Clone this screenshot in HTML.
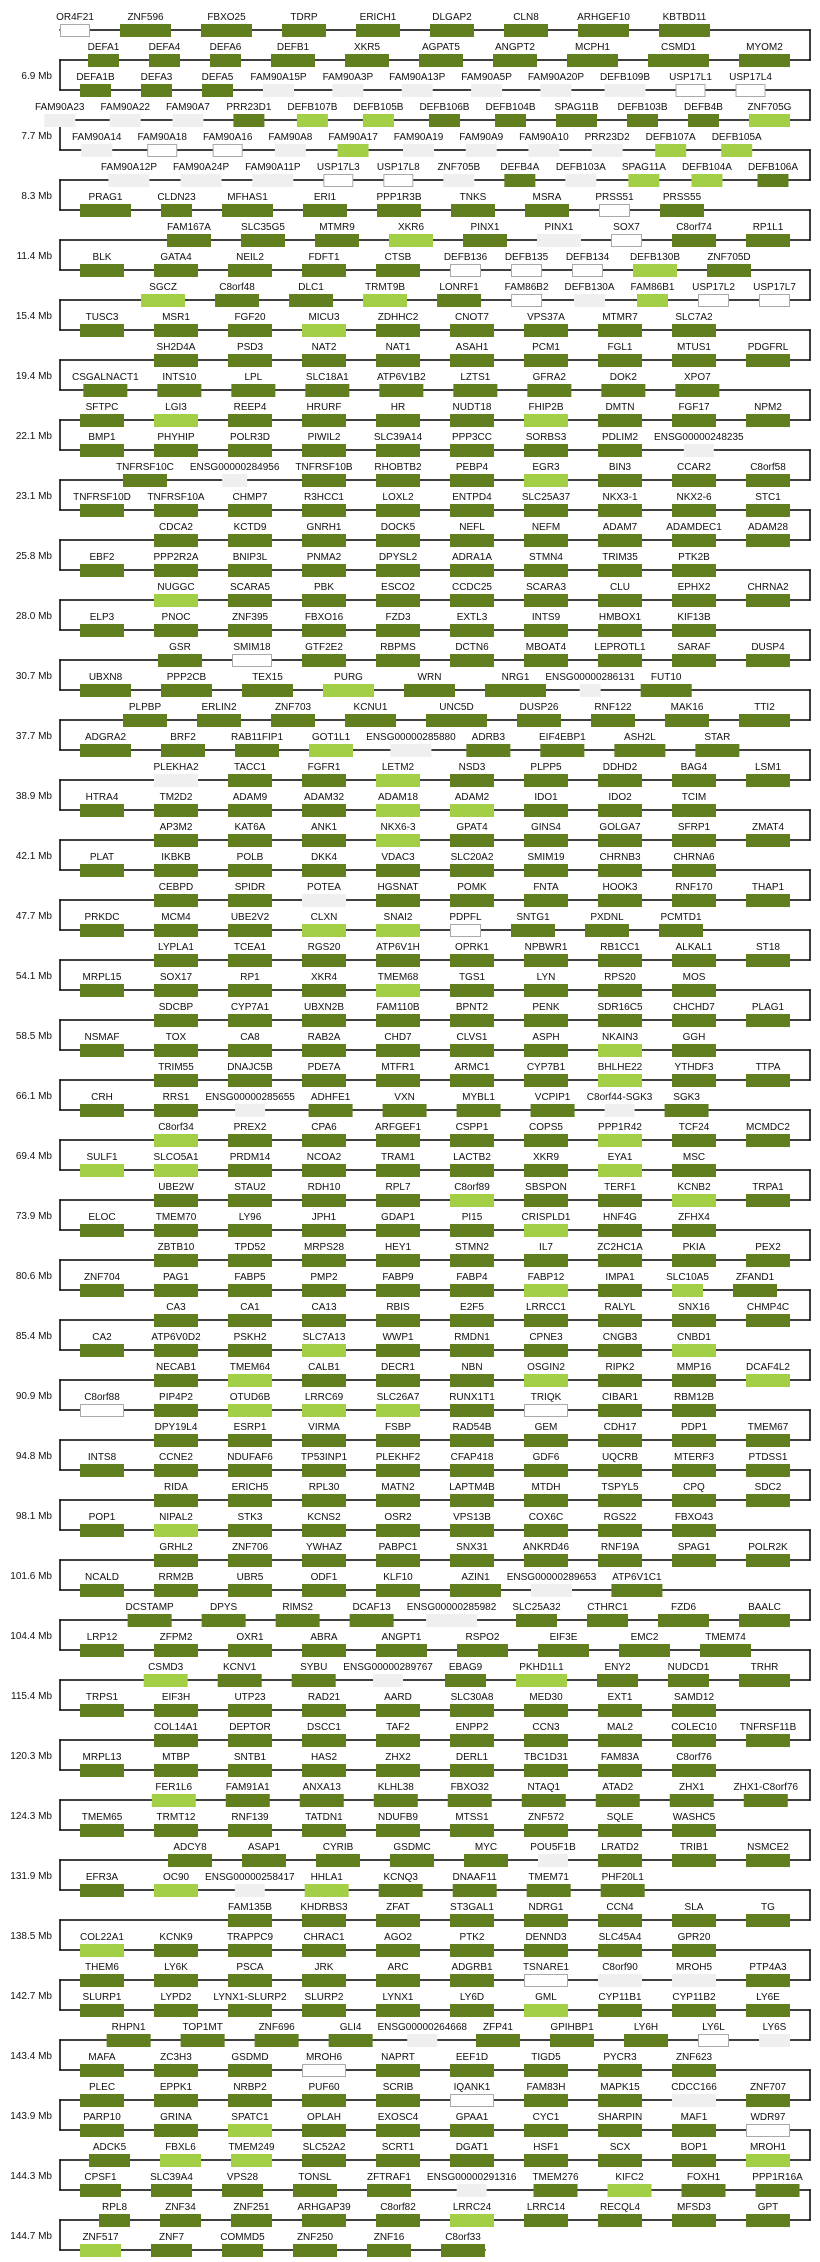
<!DOCTYPE html>
<html><head><meta charset="utf-8">
<style>
html,body{margin:0;padding:0;background:#fff;}
svg{display:block;}
text{font-family:"Liberation Sans","DejaVu Sans",sans-serif;font-size:10px;fill:#111;}
</style></head>
<body>
<svg id="s" width="820" height="2262" xmlns="http://www.w3.org/2000/svg"></svg>
<script>
var data=`OR4F21:w=30 ZNF596=51 FBXO25=51 TDRP ERICH1 DLGAP2 CLN8 ARHGEF10=51 KBTBD11=51
DEFA1=31 DEFA4=31 DEFA6=31 DEFB1 XKR5 AGPAT5 ANGPT2 MCPH1=51 CSMD1=61 MYOM2=51
DEFA1B=31 DEFA3=31 DEFA5=31 FAM90A15P:g=31 FAM90A3P:g=31 FAM90A13P:g=31 FAM90A5P:g=31 FAM90A20P:g=31 DEFB109B:g=41 USP17L1:w=30 USP17L4:w=30
FAM90A23:g=31 FAM90A22:g=31 FAM90A7:g=31 PRR23D1=31 DEFB107B:l=31 DEFB105B:l=31 DEFB106B=31 DEFB104B=31 SPAG11B=41 DEFB103B=31 DEFB4B=31 ZNF705G:l=41
FAM90A14:g=31 FAM90A18:w=30 FAM90A16:w=30 FAM90A8:g=31 FAM90A17:l=31 FAM90A19:g=31 FAM90A9:g=31 FAM90A10:g=31 PRR23D2:g=31 DEFB107A:l=31 DEFB105A:l=31
FAM90A12P:g=41 FAM90A24P:g=41 FAM90A11P:g=41 USP17L3:w=30 USP17L8:w=30 ZNF705B:g=31 DEFB4A=31 DEFB103A:g=31 SPAG11A:l=31 DEFB104A:l=31 DEFB106A=31
PRAG1=51 CLDN23=31 MFHAS1=51 ERI1 PPP1R3B TNKS MSRA PRSS51:w=31 PRSS55
FAM167A SLC35G5 MTMR9 XKR6:l PINX1 PINX1:g SOX7:w=31 C8orf74 RP1L1
BLK GATA4 NEIL2 FDFT1 CTSB DEFB136:w=31 DEFB135:w=31 DEFB134:w=31 DEFB130B:l ZNF705D
SGCZ:l C8orf48 DLC1 TRMT9B:l LONRF1 FAM86B2:w=31 DEFB130A:g=31 FAM86B1:l=31 USP17L2:w=31 USP17L7:w=31
TUSC3 MSR1 FGF20 MICU3:l ZDHHC2 CNOT7 VPS37A MTMR7 SLC7A2
SH2D4A PSD3 NAT2 NAT1 ASAH1 PCM1 FGL1 MTUS1 PDGFRL
CSGALNACT1 INTS10 LPL SLC18A1 ATP6V1B2 LZTS1 GFRA2 DOK2 XPO7
SFTPC LGI3:l REEP4 HRURF HR NUDT18 FHIP2B:l DMTN FGF17 NPM2
BMP1 PHYHIP POLR3D PIWIL2 SLC39A14 PPP3CC SORBS3 PDLIM2 ENSG00000248235:g=30
TNFRSF10C ENSG00000284956:g=25 TNFRSF10B RHOBTB2 PEBP4 EGR3:l BIN3 CCAR2 C8orf58
TNFRSF10D TNFRSF10A CHMP7 R3HCC1 LOXL2 ENTPD4 SLC25A37 NKX3-1 NKX2-6 STC1
CDCA2 KCTD9 GNRH1 DOCK5 NEFL NEFM ADAM7 ADAMDEC1 ADAM28
EBF2 PPP2R2A BNIP3L PNMA2 DPYSL2 ADRA1A STMN4 TRIM35 PTK2B
NUGGC:l SCARA5 PBK ESCO2 CCDC25 SCARA3 CLU EPHX2 CHRNA2
ELP3 PNOC ZNF395 FBXO16 FZD3 EXTL3 INTS9 HMBOX1 KIF13B
GSR SMIM18:w=40 GTF2E2 RBPMS DCTN6 MBOAT4 LEPROTL1 SARAF DUSP4
UBXN8=51 PPP2CB=51 TEX15=51 PURG:l=51 WRN=51 NRG1=61 ENSG00000286131:g=21 FUT10=51
PLPBP ERLIN2 ZNF703 KCNU1=51 UNC5D=61 DUSP26 RNF122 MAK16 TTI2=51
ADGRA2=51 BRF2 RAB11FIP1 GOT1L1:l ENSG00000285880:g=41 ADRB3 EIF4EBP1 ASH2L=51 STAR
PLEKHA2:g TACC1 FGFR1 LETM2:l NSD3 PLPP5 DDHD2 BAG4 LSM1
HTRA4 TM2D2 ADAM9 ADAM32 ADAM18:l ADAM2:l IDO1 IDO2 TCIM
AP3M2 KAT6A ANK1 NKX6-3:l GPAT4 GINS4 GOLGA7 SFRP1 ZMAT4
PLAT IKBKB POLB DKK4 VDAC3 SLC20A2 SMIM19 CHRNB3 CHRNA6
CEBPD SPIDR POTEA:g HGSNAT POMK FNTA HOOK3 RNF170 THAP1
PRKDC MCM4 UBE2V2 CLXN:l SNAI2:l PDPFL:w=31 SNTG1 PXDNL PCMTD1
LYPLA1 TCEA1 RGS20 ATP6V1H OPRK1 NPBWR1 RB1CC1 ALKAL1 ST18
MRPL15 SOX17 RP1 XKR4 TMEM68:l TGS1 LYN RPS20 MOS
SDCBP CYP7A1 UBXN2B FAM110B BPNT2 PENK SDR16C5 CHCHD7 PLAG1
NSMAF TOX CA8 RAB2A CHD7 CLVS1 ASPH NKAIN3:l GGH
TRIM55 DNAJC5B PDE7A MTFR1 ARMC1 CYP7B1 BHLHE22:l YTHDF3 TTPA
CRH RRS1 ENSG00000285655:g=30 ADHFE1 VXN MYBL1 VCPIP1 C8orf44-SGK3:g=30 SGK3
C8orf34:l PREX2 CPA6 ARFGEF1 CSPP1 COPS5 PPP1R42:l TCF24 MCMDC2
SULF1:l SLCO5A1:l PRDM14 NCOA2 TRAM1 LACTB2 XKR9 EYA1:l MSC
UBE2W STAU2 RDH10 RPL7 C8orf89:l SBSPON TERF1 KCNB2:l TRPA1
ELOC TMEM70 LY96 JPH1 GDAP1 PI15 CRISPLD1:l HNF4G ZFHX4
ZBTB10 TPD52 MRPS28 HEY1 STMN2 IL7 ZC2HC1A PKIA PEX2
ZNF704 PAG1 FABP5 PMP2 FABP9 FABP4 FABP12:l IMPA1 SLC10A5:l=31 ZFAND1
CA3 CA1 CA13 RBIS E2F5 LRRCC1 RALYL SNX16 CHMP4C
CA2 ATP6V0D2 PSKH2 SLC7A13:l WWP1 RMDN1 CPNE3 CNGB3 CNBD1:l
NECAB1 TMEM64:l CALB1 DECR1 NBN OSGIN2:l RIPK2 MMP16 DCAF4L2:l
C8orf88:w PIP4P2 OTUD6B:l LRRC69:l SLC26A7:l RUNX1T1 TRIQK:w CIBAR1 RBM12B
DPY19L4 ESRP1 VIRMA FSBP RAD54B GEM CDH17 PDP1 TMEM67
INTS8 CCNE2 NDUFAF6 TP53INP1 PLEKHF2 CFAP418 GDF6 UQCRB MTERF3 PTDSS1
RIDA ERICH5 RPL30 MATN2 LAPTM4B MTDH TSPYL5 CPQ SDC2
POP1 NIPAL2:l STK3 KCNS2 OSR2 VPS13B COX6C RGS22 FBXO43
GRHL2 ZNF706 YWHAZ PABPC1 SNX31 ANKRD46 RNF19A SPAG1 POLR2K
NCALD RRM2B UBR5 ODF1 KLF10 AZIN1=51 ENSG00000289653:g=41 ATP6V1C1=51
DCSTAMP DPYS RIMS2 DCAF13 ENSG00000285982:g=51 SLC25A32=41 CTHRC1=41 FZD6=51 BAALC=51
LRP12 ZFPM2 OXR1 ABRA ANGPT1=51 RSPO2=51 EIF3E=51 EMC2=51 TMEM74=51
CSMD3:l KCNV1 SYBU ENSG00000289767:g=30 EBAG9=41 PKHD1L1:l=51 ENY2=41 NUDCD1=41 TRHR=51
TRPS1 EIF3H UTP23 RAD21 AARD SLC30A8 MED30 EXT1 SAMD12
COL14A1 DEPTOR DSCC1 TAF2 ENPP2 CCN3 MAL2 COLEC10 TNFRSF11B
MRPL13 MTBP SNTB1 HAS2 ZHX2 DERL1 TBC1D31 FAM83A C8orf76
FER1L6:l FAM91A1 ANXA13 KLHL38 FBXO32 NTAQ1 ATAD2 ZHX1 ZHX1-C8orf76
TMEM65 TRMT12 RNF139 TATDN1 NDUFB9 MTSS1 ZNF572 SQLE WASHC5
ADCY8 ASAP1 CYRIB GSDMC MYC POU5F1B:g=30 LRATD2 TRIB1 NSMCE2
EFR3A OC90:l ENSG00000258417:g=30 HHLA1:l KCNQ3 DNAAF11 TMEM71 PHF20L1
FAM135B KHDRBS3 ZFAT ST3GAL1 NDRG1 CCN4 SLA TG
COL22A1:l KCNK9 TRAPPC9 CHRAC1 AGO2 PTK2 DENND3 SLC45A4 GPR20
THEM6 LY6K PSCA JRK ARC ADGRB1 TSNARE1:w C8orf90:g MROH5:g PTP4A3
SLURP1 LYPD2 LYNX1-SLURP2 SLURP2 LYNX1 LY6D GML:l CYP11B1 CYP11B2 LY6E
RHPN1 TOP1MT ZNF696 GLI4 ENSG00000264668:g=30 ZFP41 GPIHBP1 LY6H LY6L:w=31 LY6S:g=31
MAFA ZC3H3 GSDMD MROH6:w NAPRT EEF1D TIGD5 PYCR3 ZNF623
PLEC EPPK1 NRBP2 PUF60 SCRIB IQANK1:w FAM83H MAPK15 CDCC166:g ZNF707
PARP10 GRINA SPATC1:l OPLAH EXOSC4 GPAA1 CYC1 SHARPIN MAF1 WDR97:w HGH1
ADCK5=41 FBXL6:l=41 TMEM249:l=41 SLC52A2 SCRT1 DGAT1 HSF1 SCX BOP1 MROH1:l
CPSF1=41 SLC39A4=41 VPS28=41 TONSL ZFTRAF1 ENSG00000291316:g=30 TMEM276 KIFC2:l FOXH1 PPP1R16A
RPL8=31 ZNF34=41 ZNF251=41 ARHGAP39 C8orf82 LRRC24:l LRRC14 RECQL4 MFSD3 GPT
ZNF517:l=41 ZNF7=41 COMMD5=41 ZNF250 ZNF16 C8orf33`;
var mb="6.9,7.7,8.3,11.4,15.4,19.4,22.1,23.1,25.8,28.0,30.7,37.7,38.9,42.1,47.7,54.1,58.5,66.1,69.4,73.9,80.6,85.4,90.9,94.8,98.1,101.6,104.4,115.4,120.3,124.3,131.9,138.5,142.7,143.4,143.9,144.3,144.7".split(",");
var NS="http://www.w3.org/2000/svg",s=document.getElementById("s");
var ctx=document.createElement("canvas").getContext("2d");ctx.font='10px "Liberation Sans"';
function el(t,a,txt){var e=document.createElementNS(NS,t);for(var k in a)e.setAttribute(k,a[k]);if(txt!=null)e.textContent=txt;s.appendChild(e);return e;}
var col={d:"#617f1f",l:"#a3cf47",g:"#efefef",w:"#ffffff"};
var rows=data.split("\n");
var lines=[],boxes=[];
rows.forEach(function(r,i){
  var y=30+30*i;
  var gs=r.trim().split(/\s+/).map(function(t){
    var bw=44,m=t.match(/=(\d+)$/);if(m){bw=+m[1];t=t.replace(/=\d+$/,"");}
    var c="d";var m2=t.match(/:(\w)$/);if(m2){c=m2[1];t=t.replace(/:\w$/,"");}
    return {n:t,bw:bw,c:c,lw:ctx.measureText(t).width};
  });
  if(i%2==0){
    var st=(i==0)?60:80;var x=null,p=null;
    gs.forEach(function(g){
      if(!p)x=Math.max(st+g.bw/2,st-8+g.lw/2);
      else x=p.x+Math.max((p.bw+g.bw)/2+30,(p.lw+g.lw)/2+16);
      g.x=x;p=g;});
  } else {
    var x=null,p=null;
    for(var j=gs.length-1;j>=0;j--){var g=gs[j];
      if(!p)x=Math.min(790-g.bw/2,798-g.lw/2);
      else x=p.x-Math.max((p.bw+g.bw)/2+30,(p.lw+g.lw)/2+16);
      g.x=x;p=g;}
  }
  var x1=60,x2=810;
  if(i==rows.length-1){var L=gs[gs.length-1];x2=L.x+L.bw/2;}
  lines.push([x1,y,x2,y]);
  if(i<rows.length-1){
    var vx=(i%2==0)?810:60;lines.push([vx,y,vx,y+30]);
  }
  gs.forEach(function(g){boxes.push([g,y]);});
});
lines.forEach(function(l){el("line",{x1:l[0],y1:l[1],x2:l[2],y2:l[3],stroke:"#000","stroke-width":1.5,"stroke-linecap":"square"});});
boxes.forEach(function(b){var g=b[0],y=b[1];
  var a={x:g.x-g.bw/2,y:y-6,width:g.bw,height:13,fill:col[g.c]};
  if(g.c=="w"){a.stroke="#aaaaaa";a["stroke-width"]=1;a.x+=0.5;a.y+=0.5;a.width-=1;a.height-=1;}
  el("rect",a);
  el("text",{x:g.x,y:y-10,"text-anchor":"middle"},g.n);
});
mb.forEach(function(v,k){el("text",{x:52,y:79+60*k,"text-anchor":"end"},v+" Mb");});
</script>
</body></html>
